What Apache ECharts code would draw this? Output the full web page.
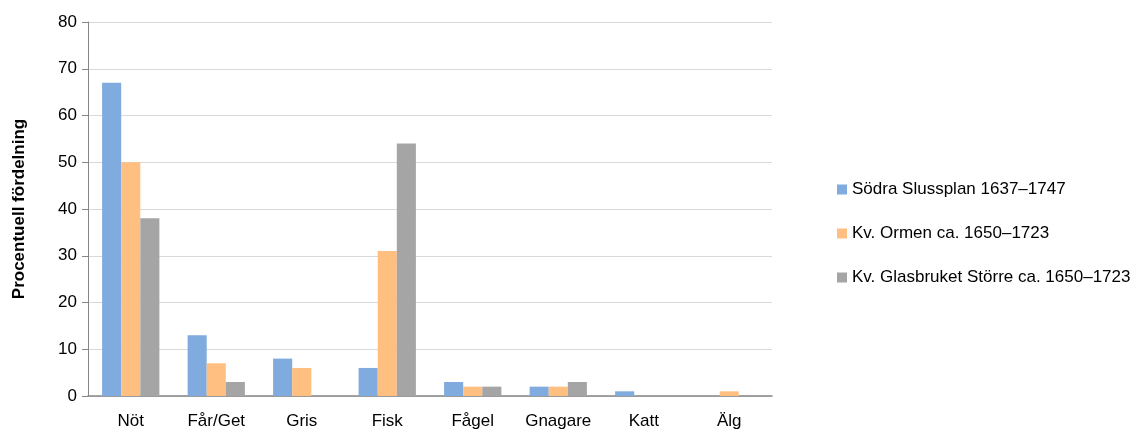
<!DOCTYPE html>
<html><head><meta charset="utf-8">
<script src="https://cdn.jsdelivr.net/npm/echarts@6/dist/echarts.min.js"></script>
<style>html,body{margin:0;padding:0;background:#fff}#c{width:1142px;height:430px}</style>
</head><body><div id="c"></div>
<script>
const categories = ['Nöt','Får/Get','Gris','Fisk','Fågel','Gnagare','Katt','Älg'];
const seriesNames = ['Södra Slussplan 1637–1747','Kv. Ormen ca. 1650–1723','Kv. Glasbruket Större ca. 1650–1723'];
const sodra = [67,13,8,6,3,2,1,0];
const ormen = [50,7,6,31,2,2,0,1];
const glasbruket = [38,3,0,54,2,3,0,0];
const colors = ['#7FABDE','#FFBF80','#A5A5A5'];
const font = '"Liberation Sans", Arial, sans-serif';
const chart = echarts.init(document.getElementById('c'));
chart.setOption({
  animation:false,
  grid:{left:88,top:22,right:370,bottom:34,containLabel:false},
  legend:{orient:'vertical',left:832,top:176,itemWidth:10,itemHeight:10,itemGap:27,icon:'rect',
    textStyle:{fontFamily:font,fontSize:17,color:'#000'}, data:seriesNames},
  xAxis:{type:'category',data:categories,
    axisLine:{lineStyle:{color:'#868686',width:1.5}},axisTick:{show:false},
    axisLabel:{fontFamily:font,fontSize:17,color:'#000',margin:17,interval:0}},
  yAxis:{type:'value',min:0,max:80,interval:10,
    name:'Procentuell fördelning',nameLocation:'middle',nameGap:60,
    nameTextStyle:{fontFamily:font,fontSize:17,fontWeight:'bold',color:'#000'},
    axisLine:{show:true,lineStyle:{color:'#868686'}},
    axisTick:{show:true,length:6,lineStyle:{color:'#868686'}},
    splitLine:{lineStyle:{color:'#D9D9D9',width:1.2}},
    axisLabel:{fontFamily:font,fontSize:17,color:'#000',margin:11}},
  series:[
    {name:seriesNames[0],type:'bar',data:sodra,itemStyle:{color:colors[0]},barGap:'0%',barCategoryGap:'33%'},
    {name:seriesNames[1],type:'bar',data:ormen,itemStyle:{color:colors[1]},barGap:'0%',barCategoryGap:'33%'},
    {name:seriesNames[2],type:'bar',data:glasbruket,itemStyle:{color:colors[2]},barGap:'0%',barCategoryGap:'33%'}
  ]
});
</script></body></html>
